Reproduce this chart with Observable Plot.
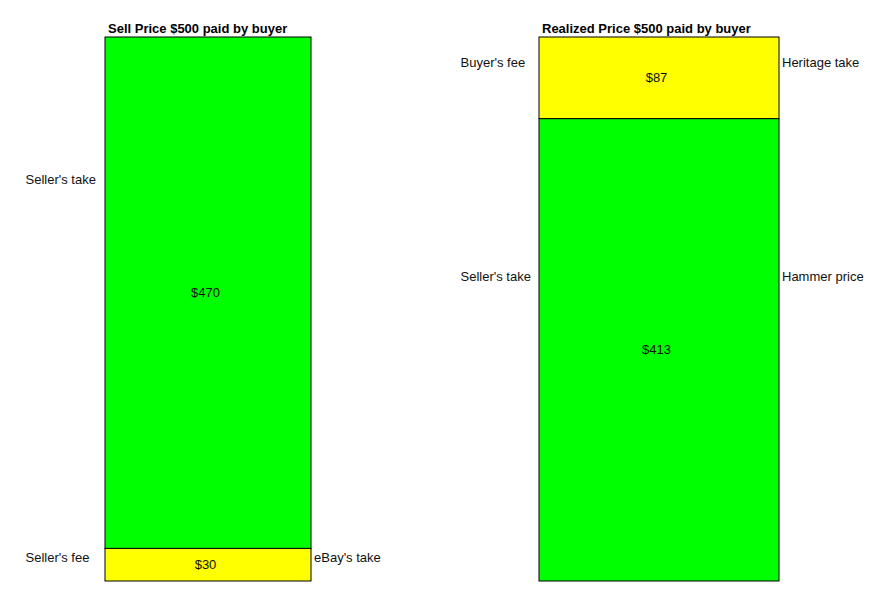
<!DOCTYPE html>
<html>
<head>
<meta charset="utf-8">
<script src="https://cdn.jsdelivr.net/npm/d3@7"></script>
<script src="https://cdn.jsdelivr.net/npm/@observablehq/plot@0.6"></script>
<style>
  html, body { margin: 0; padding: 0; background: #fff; }
  #wrap { position: relative; width: 889px; height: 606px; font-family: "Liberation Sans", Arial, sans-serif; }
  #wrap > div { position: absolute; top: 0; }
</style>
</head>
<body>
<div id="wrap"><div id="p1"></div><div id="p2"></div></div>
<script>
// Titles
const titles = ["Sell Price $500 paid by buyer", "Realized Price $500 paid by buyer"];

// Segments (bottom to top), values as drawn
const leftSegments = ["Seller's fee", "Seller's take"];
const leftValues = [30, 470];
const leftValueLabels = ["$30", "$470"];
const leftColors = ["#ffff00", "#00ff00"];

const rightSegments = ["Seller's take", "Buyer's fee"];
const rightValues = [425, 75];
const rightValueLabels = ["$413", "$87"];
const rightColors = ["#00ff00", "#ffff00"];

// Side annotations (value-axis position)
const leftSideLeft = ["Seller's take", "Seller's fee"];
const leftSideLeftY = [369, 22];
const leftSideRight = ["eBay's take"];
const leftSideRightY = [22];

const rightSideLeft = ["Buyer's fee", "Seller's take"];
const rightSideLeftY = [477, 280];
const rightSideRight = ["Heritage take", "Hammer price"];
const rightSideRightY = [477, 280];

function panel(opts) {
  const data = opts.segments.map((s, i) => ({bar: opts.title, seg: s, value: opts.values[i], label: opts.valueLabels[i], color: opts.colors[i]}));
  const sideL = opts.sideLeft.map((t, i) => ({t, y: opts.sideLeftY[i]}));
  const sideR = opts.sideRight.map((t, i) => ({t, y: opts.sideRightY[i]}));
  return Plot.plot({
    width: opts.width,
    height: 606,
    marginTop: 37,
    marginBottom: 25,
    marginLeft: opts.ml,
    marginRight: opts.mr,
    style: {fontFamily: "'Liberation Sans', Arial, sans-serif", fontSize: "13px", background: "#fff", overflow: "visible"},
    x: {type: "band", domain: [opts.title], padding: 0, axis: null},
    y: {domain: [0, 500], axis: null},
    color: {type: "identity"},
    marks: [
      Plot.barY(data, {x: "bar", y: "value", fill: "color", stroke: "#000", strokeWidth: 1, inset: 0}),
      Plot.text(data, Plot.stackY({x: "bar", y: "value", text: "label", fill: "#111", fontSize: 13, dx: -3})),
      Plot.text([opts.title], {frameAnchor: "top-left", text: d => d, textAnchor: "start", lineAnchor: "bottom", dx: 3, dy: -4.5, fontWeight: "bold", fontSize: 13, fill: "#000"}),
      Plot.text(sideL, {y: "y", text: "t", frameAnchor: "left", textAnchor: "start", dx: opts.sideLdx, fill: "#111", fontSize: 13}),
      Plot.text(sideR, {y: "y", text: "t", frameAnchor: "right", textAnchor: "start", dx: 3, fill: "#111", fontSize: 13})
    ]
  });
}

const p1 = panel({title: titles[0], segments: leftSegments, values: leftValues, valueLabels: leftValueLabels, colors: leftColors,
  sideLeft: leftSideLeft, sideLeftY: leftSideLeftY, sideRight: leftSideRight, sideRightY: leftSideRightY,
  width: 440, ml: 104.5, mr: 129.5, sideLdx: -79.5});
const p2 = panel({title: titles[1], segments: rightSegments, values: rightValues, valueLabels: rightValueLabels, colors: rightColors,
  sideLeft: rightSideLeft, sideLeftY: rightSideLeftY, sideRight: rightSideRight, sideRightY: rightSideRightY,
  width: 449, ml: 98.5, mr: 110.5, sideLdx: -78.5});
document.getElementById("p1").appendChild(p1);
const d2 = document.getElementById("p2");
d2.style.left = "440px";
d2.appendChild(p2);
</script>
</body>
</html>
